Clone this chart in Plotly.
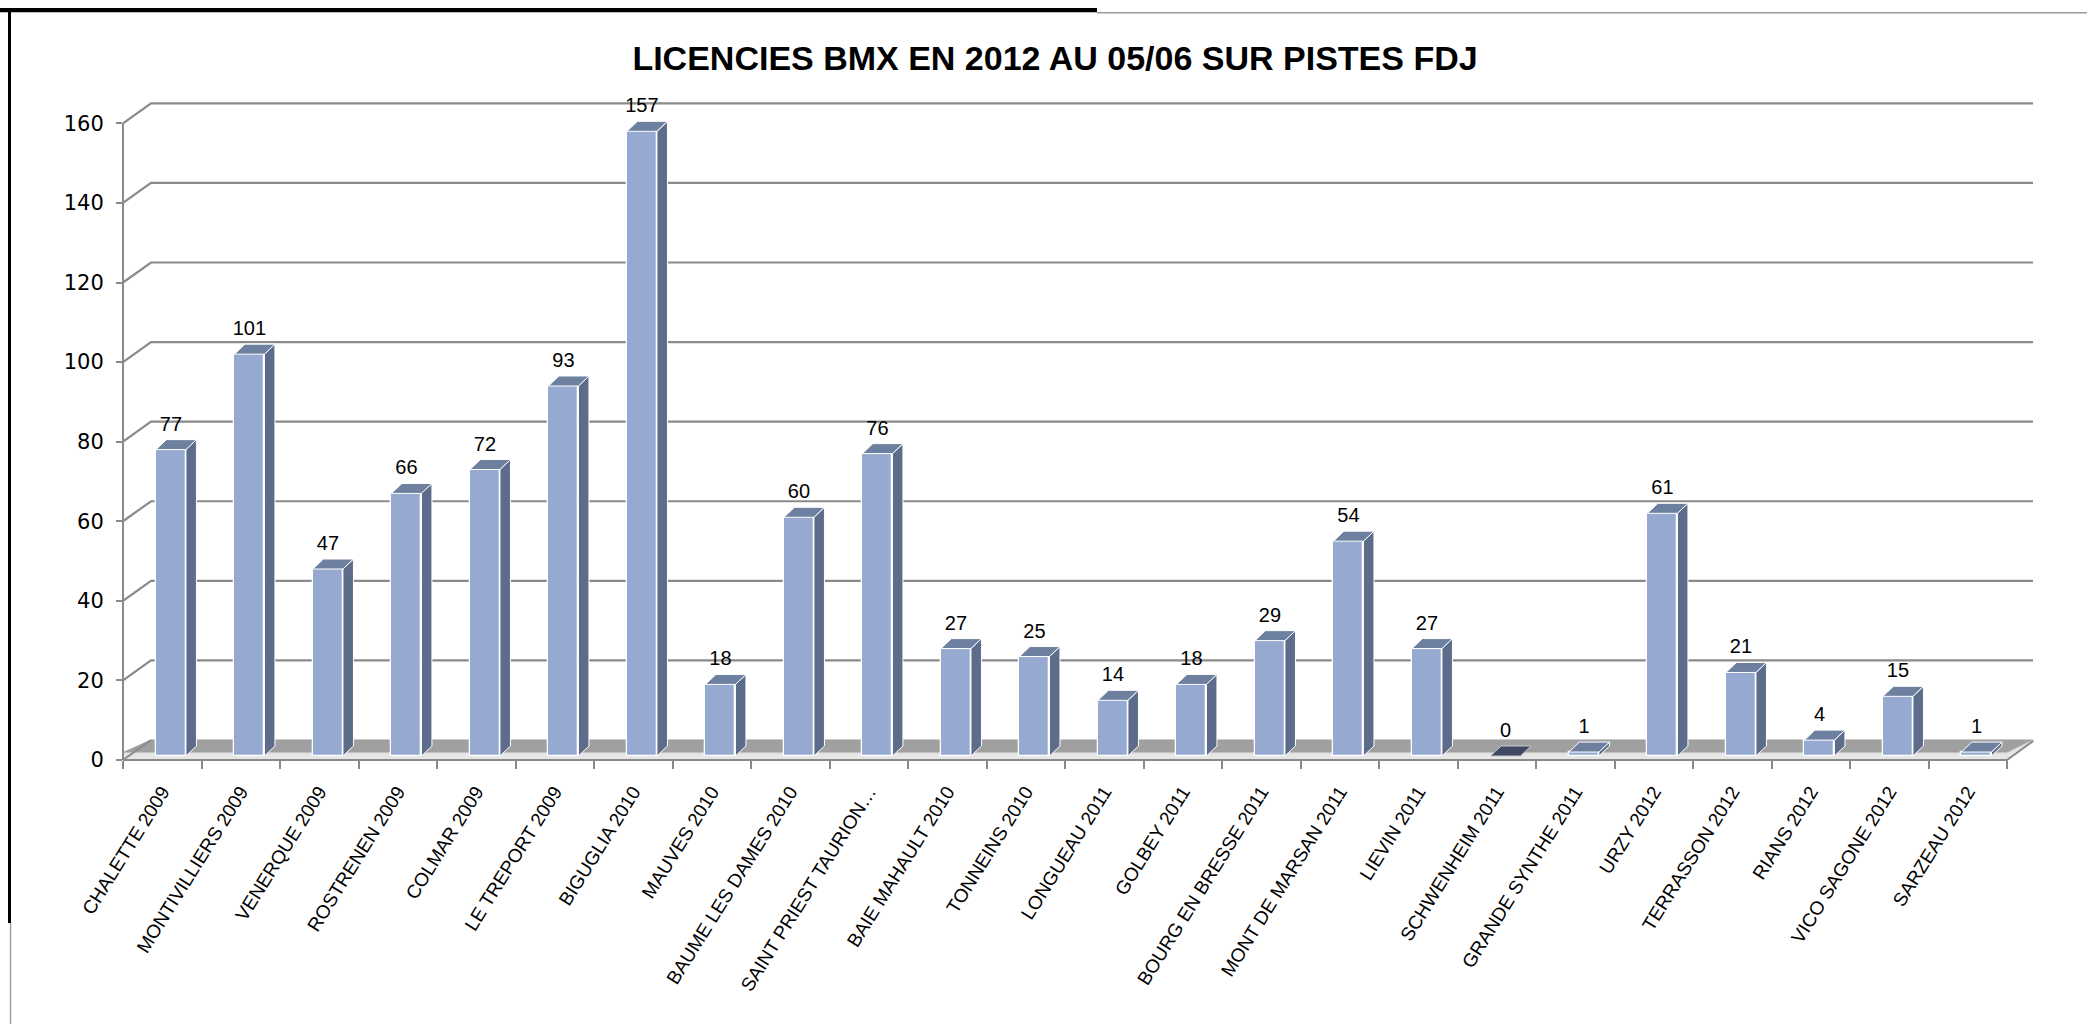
import plotly.graph_objects as go

# ---------------- data ----------------
categories = ["CHALETTE 2009", "MONTIVILLIERS 2009", "VENERQUE 2009", "ROSTRENEN 2009",
              "COLMAR 2009", "LE TREPORT 2009", "BIGUGLIA 2010", "MAUVES 2010",
              "BAUME LES DAMES 2010", "SAINT PRIEST TAURION…", "BAIE MAHAULT 2010",
              "TONNEINS 2010", "LONGUEAU 2011", "GOLBEY 2011", "BOURG EN BRESSE 2011",
              "MONT DE MARSAN 2011", "LIEVIN 2011", "SCHWENHEIM 2011", "GRANDE SYNTHE 2011",
              "URZY 2012", "TERRASSON 2012", "RIANS 2012", "VICO SAGONE 2012", "SARZEAU 2012"]
values = [77, 101, 47, 66, 72, 93, 157, 18, 60, 76, 27, 25, 14, 18, 29, 54, 27, 0, 1, 61, 21, 4, 15, 1]
y_ticks = [0, 20, 40, 60, 80, 100, 120, 140, 160]
title = "LICENCIES BMX EN 2012 AU 05/06 SUR PISTES FDJ"

# ---------------- geometry / style ----------------
W, H = 2087, 1024
ML, MR, MT, MB = 123, 80, 111, 264
PW = W - ML - MR
PH = H - MT - MB
n = len(categories)
XPU = PW / n                 # pixels per category unit
YPU = 3.979                  # pixels per value unit
Y_TOP = PH / YPU

DEPTH_DX, DEPTH_DY = 28, 20  # back wall offset in px

def px(xpix):
    return (xpix - ML) / PW

def py(ypix):
    return (H - MB - ypix) / PH

def ypix_of(v):
    return (H - MB) - v * YPU

FRONT = "#95A9D1"
SIDE = "#5C6C8A"
TOP = "#6E809F"
TOP_ZERO = "#3F4A62"
GRID = "#8A8A8A"

bar_w = 30 / XPU
bar_off = (8.7 - 15) / XPU
fdx = 10.5 / XPU
fdy = 10 / YPU
base = 1.0

idx = list(range(n))

fig = go.Figure()

# front faces
fig.add_trace(go.Bar(
    x=idx, y=values, base=base, width=bar_w, offset=bar_off,
    marker=dict(color=FRONT, line=dict(color="white", width=1.3)),
    hoverinfo="skip", showlegend=False,
))

# side and top faces computed from values
sx, sy, tx, ty, zx, zy = [], [], [], [], [], []
for i, v in enumerate(values):
    xl = i + bar_off
    xr = xl + bar_w
    top = base + v
    if v > 0:
        sx += [xr, xr + fdx, xr + fdx, xr, xr, None]
        sy += [base, base + fdy, top + fdy, top, base, None]
        tx += [xl, xl + fdx, xr + fdx, xr, xl, None]
        ty += [top, top + fdy, top + fdy, top, top, None]
    else:
        zx += [xl, xl + fdx, xr + fdx, xr, xl, None]
        zy += [top, top + fdy, top + fdy, top, top, None]

fig.add_trace(go.Scatter(x=sx, y=sy, mode="lines", fill="toself", fillcolor=SIDE,
                         line=dict(color="white", width=1), hoverinfo="skip", showlegend=False))
fig.add_trace(go.Scatter(x=tx, y=ty, mode="lines", fill="toself", fillcolor=TOP,
                         line=dict(color="white", width=1), hoverinfo="skip", showlegend=False))
fig.add_trace(go.Scatter(x=zx, y=zy, mode="lines", fill="toself", fillcolor=TOP_ZERO,
                         line=dict(color="#C8C8C8", width=1), hoverinfo="skip", showlegend=False))

# data labels
fig.add_trace(go.Scatter(
    x=[i + bar_off + bar_w / 2 for i in idx],
    y=[base + v + fdy + 1.0 for v in values],
    mode="text", text=[str(v) for v in values], textposition="top center",
    textfont=dict(family="Liberation Sans, Arial, sans-serif", size=20, color="black"),
    cliponaxis=False, hoverinfo="skip", showlegend=False,
))

shapes = []
x_front_l = ML
x_front_r = ML + PW
x_back_r = x_front_r + DEPTH_DX - 2

# back-wall gridlines
for v in y_ticks[1:]:
    yp = ypix_of(v)
    path = (f"M {px(x_front_l)} {py(yp)} L {px(x_front_l + DEPTH_DX)} {py(yp - DEPTH_DY)} "
            f"L {px(x_back_r)} {py(yp - DEPTH_DY)}")
    shapes.append(dict(type="path", xref="paper", yref="paper", path=path,
                       line=dict(color=GRID, width=2.2), layer="below"))

# floor top
y0p = ypix_of(0)
ft = y0p - 7.3
path = (f"M {px(x_front_l)} {py(ft)} L {px(x_front_l + DEPTH_DX)} {py(y0p - DEPTH_DY)} "
        f"L {px(x_back_r)} {py(y0p - DEPTH_DY)} L {px(x_front_r)} {py(ft)} Z")
shapes.append(dict(type="path", xref="paper", yref="paper", path=path,
                   fillcolor="#A0A0A0", line=dict(color="#999999", width=1), layer="below"))
# floor front edge
path = (f"M {px(x_front_l)} {py(ft)} L {px(x_front_r)} {py(ft)} L {px(x_back_r)} {py(y0p - DEPTH_DY)} "
        f"L {px(x_back_r)} {py(y0p - DEPTH_DY + 2)} L {px(x_front_r)} {py(y0p)} L {px(x_front_l)} {py(y0p)} Z")
shapes.append(dict(type="path", xref="paper", yref="paper", path=path,
                   fillcolor="#E6E6E6", line=dict(color="#C8C8C8", width=1), layer="below"))
# x axis line with slanted end
path = (f"M {px(x_front_l)} {py(y0p)} L {px(x_front_r)} {py(y0p)} L {px(x_back_r)} {py(y0p - DEPTH_DY + 1)}")
shapes.append(dict(type="path", xref="paper", yref="paper", path=path,
                   line=dict(color=GRID, width=2)))
# floor left edge
path = f"M {px(x_front_l)} {py(y0p)} L {px(x_front_l + DEPTH_DX)} {py(y0p - DEPTH_DY)}"
shapes.append(dict(type="path", xref="paper", yref="paper", path=path,
                   line=dict(color=GRID, width=2)))
# y axis line
shapes.append(dict(type="line", xref="paper", yref="paper",
                   x0=px(x_front_l), x1=px(x_front_l), y0=py(y0p), y1=py(ypix_of(160)),
                   line=dict(color=GRID, width=2)))

# frame around chart (screenshot border)
shapes.append(dict(type="rect", xref="paper", yref="paper",
                   x0=px(0), x1=px(1097), y0=py(8), y1=py(12.3),
                   fillcolor="black", line=dict(width=0)))
shapes.append(dict(type="line", xref="paper", yref="paper",
                   x0=px(1097), x1=px(W), y0=py(12.7), y1=py(12.7),
                   line=dict(color="#9C9C9C", width=1.5)))
shapes.append(dict(type="rect", xref="paper", yref="paper",
                   x0=px(8), x1=px(11), y0=py(8), y1=py(923),
                   fillcolor="black", line=dict(width=0)))
shapes.append(dict(type="line", xref="paper", yref="paper",
                   x0=px(10.5), x1=px(10.5), y0=py(923), y1=py(H),
                   line=dict(color="#A0A0A0", width=1.5)))

fig.update_layout(
    width=W, height=H,
    margin=dict(l=ML, r=MR, t=MT, b=MB, autoexpand=False),
    paper_bgcolor="white", plot_bgcolor="rgba(0,0,0,0)",
    title=dict(text=f"<b>{title}</b>", x=1055 / W, xanchor="center",
               y=1 - 58 / H, yanchor="middle", yref="container",
               font=dict(family="Liberation Sans, Arial, sans-serif", size=34, color="black")),
    shapes=shapes,
    bargap=0,
    xaxis=dict(
        range=[-0.5, n - 0.5], tickmode="array", tickvals=idx, ticktext=categories,
        tickangle=-58, ticks="", showgrid=False, zeroline=False, showline=False,
        tickfont=dict(family="Liberation Sans, Arial, sans-serif", size=19, color="black"),
        ticklabelstandoff=16,
        minor=dict(tickmode="array", tickvals=[i - 0.5 for i in range(n + 1)],
                   ticks="outside", ticklen=8, tickcolor=GRID, tickwidth=1.5, showgrid=False),
    ),
    yaxis=dict(
        range=[0, Y_TOP], tickmode="array", tickvals=y_ticks,
        ticks="outside", ticklen=6, tickcolor=GRID, tickwidth=1.5,
        showgrid=False, zeroline=False, showline=False,
        tickfont=dict(family="DejaVu Sans, Verdana, sans-serif", size=21, color="black"),
        ticklabelstandoff=8,
    ),
)

fig.write_html("out.html", config={"displayModeBar": False},
               post_script="document.body.style.margin='0px';document.body.style.overflow='hidden';")
